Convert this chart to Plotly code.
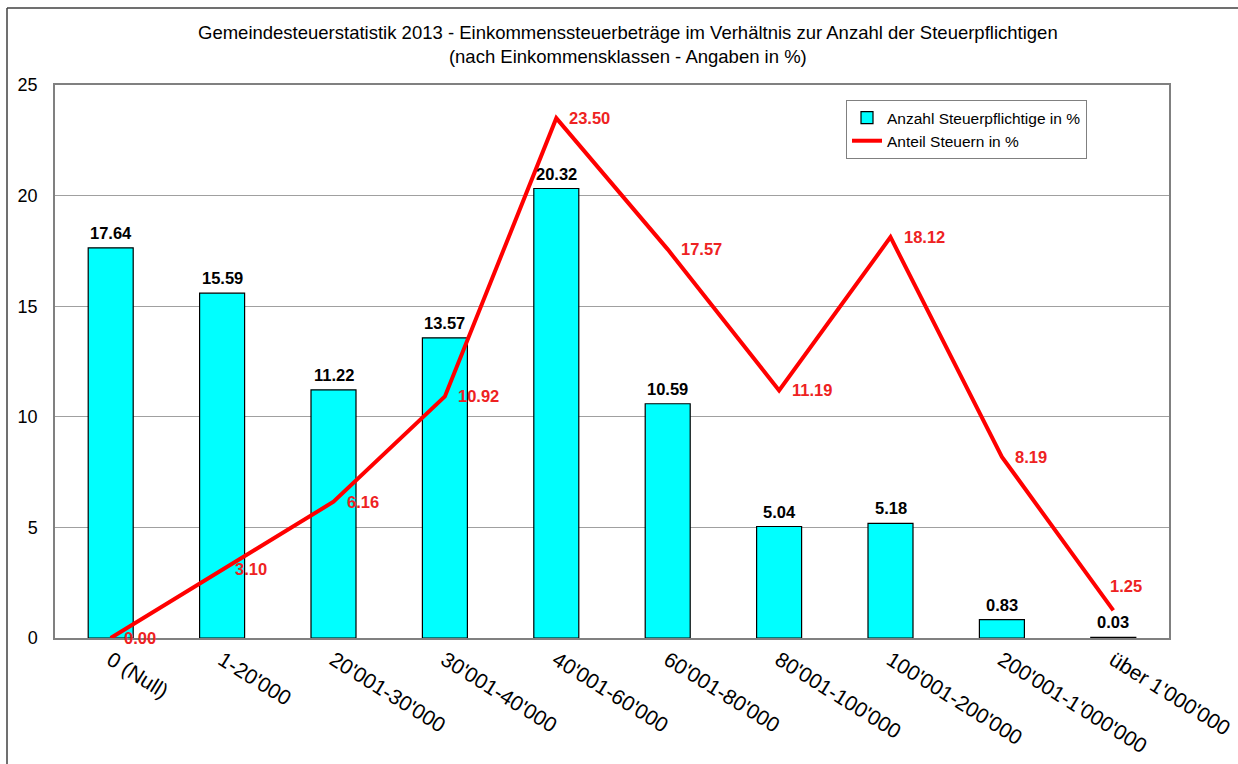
import plotly.graph_objects as go

categories = ["0 (Null)", "1-20'000", "20'001-30'000", "30'001-40'000", "40'001-60'000",
              "60'001-80'000", "80'001-100'000", "100'001-200'000", "200'001-1'000'000",
              "über 1'000'000"]
anzahl = [17.64, 15.59, 11.22, 13.57, 20.32, 10.59, 5.04, 5.18, 0.83, 0.03]
anteil = [0.00, 3.10, 6.16, 10.92, 23.50, 17.57, 11.19, 18.12, 8.19, 1.25]

FONT = "Liberation Sans, Arial, sans-serif"
W, H = 1238, 764
L, R, T, B = 55, 69, 85, 126
pw, ph = W - L - R, H - T - B

fig = go.Figure()
fig.add_trace(go.Bar(
    x=categories, y=anzahl, name="Anzahl Steuerpflichtige in %",
    marker=dict(color="#00FFFF", line=dict(color="#000000", width=1.2)),
))
fig.add_trace(go.Scatter(
    x=categories, y=anteil, name="Anteil Steuern in %", mode="lines",
    line=dict(color="#FF0000", width=4),
    cliponaxis=False,
))

def px_x(p):
    return (p - L) / pw

def px_y(p):
    return (H - B - p) / ph

annotations = [dict(
    text="Gemeindesteuerstatistik 2013 - Einkommenssteuerbeträge im Verhältnis zur Anzahl der Steuerpflichtigen<br>(nach Einkommensklassen - Angaben in %)",
    xref="paper", yref="paper", x=px_x(628), y=px_y(20), xanchor="center", yanchor="top",
    showarrow=False, font=dict(family=FONT, size=18.5, color="#000000"), align="center",
)]
for c, v in zip(categories, anzahl):
    annotations.append(dict(
        x=c, y=v, xref="x", yref="y", text=f"<b>{v:.2f}</b>", showarrow=False,
        xanchor="center", yanchor="bottom", yshift=4,
        font=dict(family=FONT, size=16.5, color="#000000"),
    ))
for i, (c, v) in enumerate(zip(categories, anteil)):
    last = i == len(categories) - 1
    annotations.append(dict(
        x=c, y=v, xref="x", yref="y", text=f"<b>{v:.2f}</b>", showarrow=False,
        xanchor="left", yanchor="middle",
        xshift=-5 if last else 11, yshift=24 if last else 0,
        font=dict(family=FONT, size=16.5, color="#EE2222"),
    ))

fig.update_layout(
    width=W, height=H,
    margin=dict(l=L, r=R, t=T, b=B, autoexpand=False),
    paper_bgcolor="white", plot_bgcolor="white",
    font=dict(family=FONT, color="#000000"),
    bargap=0.596,
    showlegend=True,
    legend=dict(
        x=px_x(846), y=px_y(100), xanchor="left", yanchor="top",
        bgcolor="white", bordercolor="#808080", borderwidth=1,
        font=dict(family=FONT, size=15.5, color="#000000"),
        itemwidth=30, tracegroupgap=0,
    ),
    annotations=annotations,
    shapes=[
        dict(type="line", xref="paper", yref="paper", x0=px_x(7), x1=px_x(1238),
             y0=px_y(8), y1=px_y(8), line=dict(color="#404040", width=1.5)),
        dict(type="line", xref="paper", yref="paper", x0=px_x(7), x1=px_x(7),
             y0=px_y(8), y1=px_y(764), line=dict(color="#404040", width=1.5)),
    ],
)
fig.update_xaxes(
    tickangle=32, tickfont=dict(family=FONT, size=21, color="#000000"),
    showline=True, linecolor="#808080", linewidth=1.5, mirror=True,
    showgrid=False, ticks="",
)
fig.update_yaxes(
    range=[0, 25], dtick=5, tickfont=dict(family=FONT, size=18, color="#000000"),
    showgrid=True, gridcolor="#A0A0A0", gridwidth=1,
    showline=True, linecolor="#808080", linewidth=1.5, mirror=True,
    zeroline=False, ticks="", ticklabelstandoff=12,
)

fig.write_html("out.html", config={"displayModeBar": False},
               post_script="document.body.style.margin='0';document.body.style.overflow='hidden';")
